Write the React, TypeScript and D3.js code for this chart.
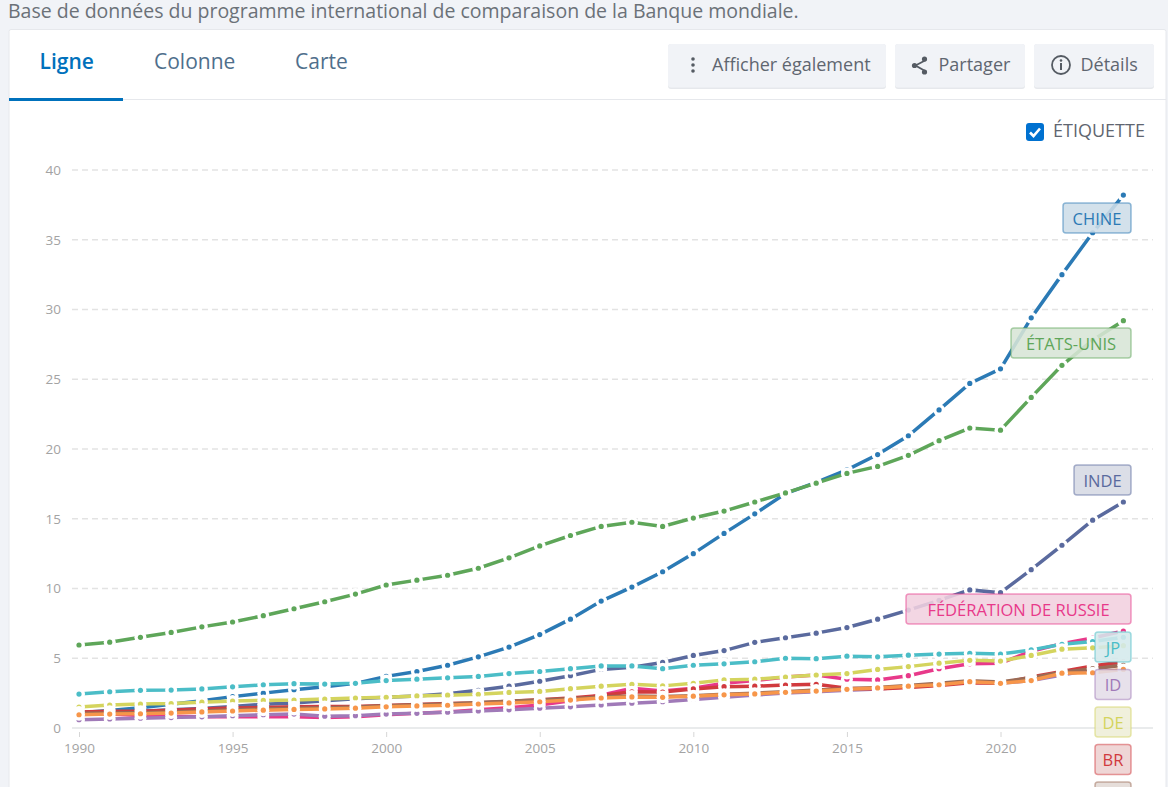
import { useEffect, useRef } from "react";
import * as d3 from "d3";

const years = d3.range(1990, 2025);
const yTicks = [0, 5, 10, 15, 20, 25, 30, 35, 40];
const xTicks = [1990, 1995, 2000, 2005, 2010, 2015, 2020];

const chine = [1.1, 1.25, 1.45, 1.7, 1.95, 2.25, 2.5, 2.75, 2.95, 3.2, 3.7, 4.05, 4.5, 5.1, 5.8, 6.7, 7.8, 9.1, 10.1, 11.2, 12.5, 13.95, 15.35, 16.8, 17.6, 18.5, 19.6, 20.95, 22.8, 24.7, 25.75, 29.4, 32.5, 35.5, 38.2];
const etatsUnis = [5.95, 6.15, 6.5, 6.85, 7.25, 7.6, 8.05, 8.55, 9.05, 9.6, 10.25, 10.6, 10.95, 11.45, 12.2, 13.05, 13.8, 14.45, 14.75, 14.45, 15.05, 15.55, 16.2, 16.85, 17.55, 18.25, 18.75, 19.55, 20.6, 21.5, 21.35, 23.7, 26.0, 27.8, 29.2];
const inde = [1.05, 1.1, 1.2, 1.3, 1.4, 1.55, 1.7, 1.8, 1.95, 2.1, 2.2, 2.3, 2.45, 2.7, 3.0, 3.35, 3.75, 4.2, 4.35, 4.7, 5.2, 5.55, 6.14, 6.47, 6.8, 7.2, 7.8, 8.45, 9.15, 9.9, 9.7, 11.35, 13.1, 14.9, 16.2];
const russie = [1.05, 1.0, 0.9, 0.85, 0.8, 0.8, 0.8, 0.8, 0.75, 0.8, 0.95, 1.05, 1.15, 1.3, 1.45, 1.65, 1.95, 2.35, 2.85, 2.65, 2.85, 3.2, 3.4, 3.65, 3.8, 3.5, 3.45, 3.75, 4.25, 4.6, 4.65, 5.5, 6.05, 6.45, 6.95];
const japon = [2.43, 2.6, 2.7, 2.72, 2.8, 2.95, 3.1, 3.18, 3.15, 3.2, 3.4, 3.5, 3.6, 3.7, 3.9, 4.05, 4.25, 4.45, 4.45, 4.25, 4.5, 4.6, 4.75, 5.0, 4.97, 5.15, 5.1, 5.22, 5.3, 5.35, 5.3, 5.6, 6.0, 6.2, 6.5];
const indonesie = [0.6, 0.65, 0.7, 0.75, 0.8, 0.88, 0.95, 1.0, 0.85, 0.88, 1.0, 1.05, 1.13, 1.22, 1.3, 1.42, 1.52, 1.65, 1.78, 1.88, 2.05, 2.2, 2.37, 2.5, 2.6, 2.7, 2.8, 2.95, 3.1, 3.3, 3.2, 3.4, 3.8, 4.2, 4.65];
const allemagne = [1.5, 1.65, 1.72, 1.75, 1.85, 1.93, 1.98, 2.0, 2.07, 2.15, 2.2, 2.3, 2.35, 2.42, 2.55, 2.62, 2.82, 3.0, 3.13, 3.02, 3.2, 3.45, 3.5, 3.65, 3.8, 3.9, 4.2, 4.4, 4.65, 4.85, 4.8, 5.2, 5.65, 5.75, 5.9];
const bresil = [1.15, 1.2, 1.2, 1.28, 1.37, 1.43, 1.47, 1.53, 1.55, 1.55, 1.62, 1.68, 1.75, 1.8, 1.92, 2.02, 2.15, 2.33, 2.6, 2.58, 2.8, 2.96, 3.0, 3.08, 3.13, 2.85, 2.8, 2.9, 3.05, 3.25, 3.2, 3.65, 4.05, 4.45, 4.75];
const brun = [1.05, 1.08, 1.1, 1.15, 1.22, 1.3, 1.36, 1.42, 1.45, 1.5, 1.6, 1.66, 1.72, 1.82, 1.92, 2.0, 2.1, 2.22, 2.3, 2.25, 2.32, 2.42, 2.5, 2.6, 2.72, 2.82, 2.9, 3.05, 3.2, 3.38, 3.3, 3.6, 4.0, 4.25, 4.5];
const orange = [0.95, 1.0, 1.02, 1.07, 1.15, 1.22, 1.28, 1.33, 1.37, 1.42, 1.52, 1.58, 1.63, 1.72, 1.8, 1.88, 2.0, 2.15, 2.23, 2.2, 2.28, 2.38, 2.44, 2.56, 2.65, 2.77, 2.87, 3.0, 3.1, 3.32, 3.2, 3.4, 3.93, 3.96, 4.2];

const seriesList = [
  { name: "CHINE", values: chine, color: "#2b7ab5" },
  { name: "ÉTATS-UNIS", values: etatsUnis, color: "#5ea659" },
  { name: "INDE", values: inde, color: "#5a6a9e" },
  { name: "FÉDÉRATION DE RUSSIE", values: russie, color: "#e8398a" },
  { name: "JP", values: japon, color: "#4bbdc7" },
  { name: "ID", values: indonesie, color: "#a07ab8" },
  { name: "DE", values: allemagne, color: "#d4d45e" },
  { name: "BR", values: bresil, color: "#d13a3e" },
  { name: "", values: brun, color: "#9b6b55" },
  { name: "", values: orange, color: "#f7964a" },
];

const font = "'Open Sans', sans-serif";
const textColor = "#5f6670";

export default function App() {
  const ref = useRef<SVGSVGElement>(null);

  useEffect(() => {
    const svg = d3.select(ref.current);
    svg.selectAll("*").remove();

    const x = d3.scaleLinear().domain([1990, 2020]).range([79, 1000.5]);
    const y = d3.scaleLinear().domain([0, 40]).range([728, 170]);

    // page + card
    svg.append("rect").attr("width", 1168).attr("height", 787).attr("fill", "#f1f3f7");
    svg.append("rect").attr("x", 9).attr("y", 29.5).attr("width", 1157).attr("height", 770)
      .attr("rx", 2).attr("fill", "#fff").attr("stroke", "#e6e8ec");
    svg.append("text").attr("x", 8).attr("y", 18).attr("font-size", 19.5).attr("fill", "#6b7178")
      .attr("font-family", font).text("Base de données du programme international de comparaison de la Banque mondiale.");

    // tabs
    svg.append("line").attr("x1", 9).attr("x2", 1166).attr("y1", 99.5).attr("y2", 99.5).attr("stroke", "#e6e8ec");
    svg.append("rect").attr("x", 9).attr("y", 98).attr("width", 114).attr("height", 3).attr("fill", "#0071bc");
    const tabs: [string, number, string, number][] = [["Ligne", 39.5, "#0071bc", 600], ["Colonne", 154, "#4f6f8c", 400], ["Carte", 295, "#4f6f8c", 400]];
    tabs.forEach(([t, tx, c, w]) => {
      svg.append("text").attr("x", tx).attr("y", 69).attr("font-size", 21).attr("font-weight", w)
        .attr("fill", c).attr("font-family", font).text(t);
    });

    // buttons
    const buttons: [string, number, number, number][] = [["Afficher également", 668, 218, 712], ["Partager", 895, 130, 938.5], ["Détails", 1034, 120, 1080.5]];
    buttons.forEach(([t, bx, bw, tx]) => {
      svg.append("rect").attr("x", bx).attr("y", 44).attr("width", bw).attr("height", 45).attr("rx", 3).attr("fill", "#e6e8ec");
      svg.append("rect").attr("x", bx).attr("y", 44).attr("width", bw).attr("height", 43.5).attr("rx", 3).attr("fill", "#f1f3f7");
      svg.append("text").attr("x", tx).attr("y", 70.5).attr("font-size", 18).attr("fill", textColor)
        .attr("font-family", font).text(t);
    });
    // three dots
    [-6, 0, 6].forEach((d) => svg.append("circle").attr("cx", 693).attr("cy", 65 + d).attr("r", 1.8).attr("fill", "#555b63"));
    // share icon
    const share = svg.append("g").attr("fill", "#555b63").attr("stroke", "#555b63");
    share.append("path").attr("d", "M926 60L915.5 65.5L926 71.5").attr("fill", "none").attr("stroke-width", 1.8);
    [[924.5, 59], [914.5, 65.5], [924.5, 72]].forEach(([cx, cy]) =>
      share.append("circle").attr("cx", cx).attr("cy", cy).attr("r", 2.6).attr("stroke", "none"));
    // info icon
    svg.append("circle").attr("cx", 1061).attr("cy", 65).attr("r", 9).attr("fill", "none").attr("stroke", "#555b63").attr("stroke-width", 1.8);
    svg.append("circle").attr("cx", 1061).attr("cy", 60.5).attr("r", 1.3).attr("fill", "#555b63");
    svg.append("rect").attr("x", 1060).attr("y", 63).attr("width", 2).attr("height", 7).attr("fill", "#555b63");

    // checkbox
    svg.append("rect").attr("x", 1026).attr("y", 123).attr("width", 18).attr("height", 18).attr("rx", 3).attr("fill", "#0071d0");
    svg.append("path").attr("d", "M1030 132.5L1033.5 136L1040 128.5").attr("fill", "none").attr("stroke", "#fff").attr("stroke-width", 2.6);
    svg.append("text").attr("x", 1053).attr("y", 137).attr("font-size", 18).attr("fill", textColor)
      .attr("font-family", font).text("ÉTIQUETTE");

    // grid
    const grid = svg.append("g");
    yTicks.filter((t) => t > 0).forEach((t) => {
      grid.append("line").attr("x1", 72).attr("x2", 1153).attr("y1", y(t)).attr("y2", y(t))
        .attr("stroke", "#e3e3e3").attr("stroke-width", 1.4).attr("stroke-dasharray", "6 4");
    });

    // axes
    const xAxis = svg.append("g").attr("transform", "translate(0,728)")
      .call(d3.axisBottom(x).tickValues(xTicks).tickFormat(d3.format("d")).tickSize(9).tickPadding(6));
    xAxis.select(".domain").remove();
    xAxis.append("line").attr("x1", 72).attr("x2", 1153).attr("stroke", "#e2e4e6").attr("stroke-width", 1.5);
    xAxis.selectAll(".tick line").attr("stroke", "#d6d6d6").attr("y1", 4);
    const yAxis = svg.append("g").attr("transform", "translate(61,0)")
      .call(d3.axisLeft(y).tickValues(yTicks).tickSize(0).tickPadding(0));
    yAxis.select(".domain").remove();
    [xAxis, yAxis].forEach((a) => a.selectAll("text").attr("font-size", 13.5).attr("font-family", font).attr("fill", "#a3a3a3"));

    // lines + markers
    const line = d3.line<number>().x((_, i) => x(years[i])).y((d) => y(d));
    seriesList.forEach((s) => {
      const g = svg.append("g");
      g.append("path").attr("d", line(s.values)).attr("fill", "none").attr("stroke", s.color).attr("stroke-width", 3.5);
      g.selectAll("circle.halo").data(s.values).join("circle").attr("class", "halo")
        .attr("cx", (_, i) => x(years[i])).attr("cy", (d) => y(d)).attr("r", 6).attr("fill", "#fff");
      g.selectAll("circle.dot").data(s.values).join("circle").attr("class", "dot")
        .attr("cx", (_, i) => x(years[i])).attr("cy", (d) => y(d)).attr("r", 2.6).attr("fill", s.color);
    });

    // end labels, stacked on the right edge
    const labelTops = [203, 328, 465, 594, 632, 669.5, 707, 744.5, 782];
    const labelWidths = [68, 120, 57, 225, 36, 36, 36, 36, 36];
    labelTops.forEach((top, i) => {
      const s = seriesList[i];
      const w = labelWidths[i];
      const left = 1131 - w;
      const g = svg.append("g");
      g.append("rect").attr("x", left).attr("y", top).attr("width", w).attr("height", 30).attr("rx", 3)
        .attr("fill", "#f5f5f5").attr("fill-opacity", 0.85);
      g.append("rect").attr("x", left).attr("y", top).attr("width", w).attr("height", 30).attr("rx", 3)
        .attr("fill", s.color).attr("fill-opacity", 0.17).attr("stroke", s.color).attr("stroke-opacity", 0.5).attr("stroke-width", 1.5);
      if (s.name) {
        g.append("text").attr("x", left + w / 2).attr("y", top + 21.5).attr("font-size", 16.5).attr("font-family", font)
          .attr("fill", s.color).attr("text-anchor", "middle").text(s.name);
      }
    });
  }, []);

  return (
    <div style={{ position: "absolute", left: 0, top: 0 }}>
      <svg ref={ref} width={1168} height={787} style={{ display: "block" }} />
    </div>
  );
}
